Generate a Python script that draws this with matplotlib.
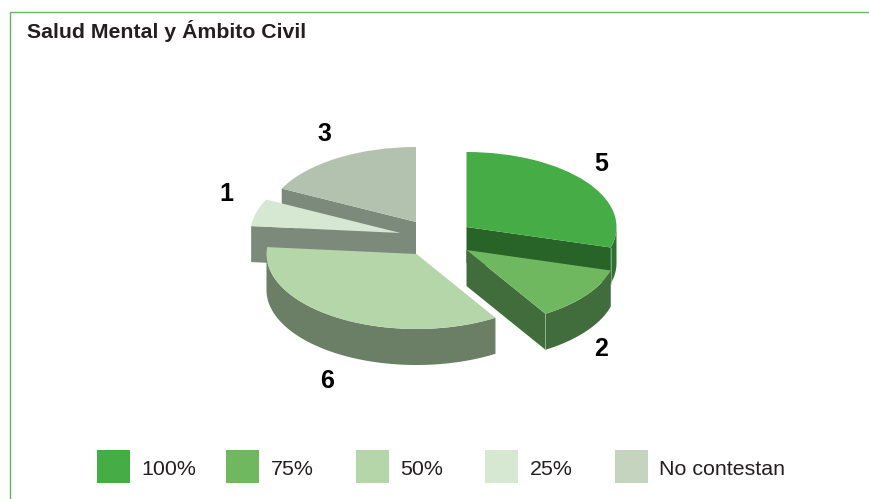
import numpy as np
import matplotlib
matplotlib.use('Agg')
import matplotlib.pyplot as plt
from matplotlib.patches import Polygon, Rectangle

plt.rcParams['font.family'] = ['Liberation Sans', 'DejaVu Sans']

# data
title = 'Salud Mental y Ámbito Civil'
categories = ['100%', '75%', '50%', '25%', 'No contestan']
values = [5, 2, 6, 1, 3]

# styles
top_colors = ['#46ac46', '#70b860', '#b5d6a8', '#d6e8d2', '#b3c2af']
wall_colors = ['#2c7232', '#416d3c', '#6a7f66', '#7c8a7c', '#7c8a7c']
cut_colors = ['#286328', '#416d3c', '#6a7f66', '#7c8a7c', '#7c8a7c']
legend_colors = ['#46ac46', '#70b860', '#b5d6a8', '#d6e8d2', '#c5d4bf']
text_color = '#231f20'

# layout, in picture pixels (y counted from the top)
centers = [(466.5, 227), (466.5, 250), (416.5, 254), (400.5, 233), (416, 222)]
label_pos = [(601, 164), (601, 349), (327, 381), (226, 194), (324, 134)]
legend_x = [97, 226, 356, 485, 615]
radius = 150
depth = 36
draw_order = [4, 3, 0, 1, 2]
# which end of each wedge shows its cut face (None = hidden behind the top)
cut_side = [0, 0, None, -1, -1]


def py(y):
    # the pie is squashed to half height by doubling the data range of y
    return (499 - y) * 2


fig = plt.figure(figsize=(8.7, 4.99), dpi=100)
ax = fig.add_axes([0, 0, 1, 1])

wedges, _ = ax.pie(values, startangle=90, counterclock=False, radius=radius,
                   colors=top_colors, wedgeprops={'linewidth': 0})
ax.set_aspect('auto')
ax.set_xlim(0, 870)
ax.set_ylim(0, 998)
ax.axis('off')

z = 2
for i in draw_order:
    w = wedges[i]
    cx, cy = centers[i][0], py(centers[i][1])
    w.set_center((cx, cy))
    t = np.radians(np.linspace(w.theta1, w.theta2, 200))
    xs = cx + radius * np.cos(t)
    ys = cy + radius * np.sin(t)
    d = depth * 2

    # outer wall, only the part of the rim that faces the viewer
    front = np.sin(t) <= 0
    if front.sum() > 1:
        fx, fy = xs[front], ys[front]
        outer = np.column_stack([np.r_[fx, fx[::-1]], np.r_[fy, fy[::-1] - d]])
        ax.add_patch(Polygon(outer, fc=wall_colors[i], ec='none', zorder=z))
    # cut face
    k = cut_side[i]
    if k is not None:
        face = [(cx, cy), (xs[k], ys[k]), (xs[k], ys[k] - d), (cx, cy - d)]
        ax.add_patch(Polygon(face, fc=cut_colors[i], ec='none', zorder=z + 1))
    # pale edge where the cut meets the outer wall
    if i in (0, 1):
        ax.plot([xs[0], xs[0]], [ys[0], ys[0] - d], color='#a9c9a3', lw=0.6,
                alpha=0.7, zorder=z + 1.5)
    w.set_zorder(z + 2)
    z += 3

for (x, y), v in zip(label_pos, values):
    ax.text(x, py(y), str(v), fontsize=18, fontweight='bold', color='black',
            ha='center', va='center', zorder=50)

ax.text(27, py(38), title, fontsize=15.3, fontweight='bold', color=text_color,
        ha='left', va='baseline', zorder=50)

# legend
for x, name, c in zip(legend_x, categories, legend_colors):
    ax.add_patch(Rectangle((x, py(483)), 33, 66, fc=c, ec='none', zorder=50))
    ax.text(x + 44.5, py(475), name, fontsize=15.4, color=text_color,
            ha='left', va='baseline', zorder=50)

# frame
ax.plot([10.5, 10.5, 870], [py(499), py(12), py(12)], color='#62b662', lw=1.0,
        solid_joinstyle='miter', zorder=50)

fig.savefig('out.png', dpi=100)
